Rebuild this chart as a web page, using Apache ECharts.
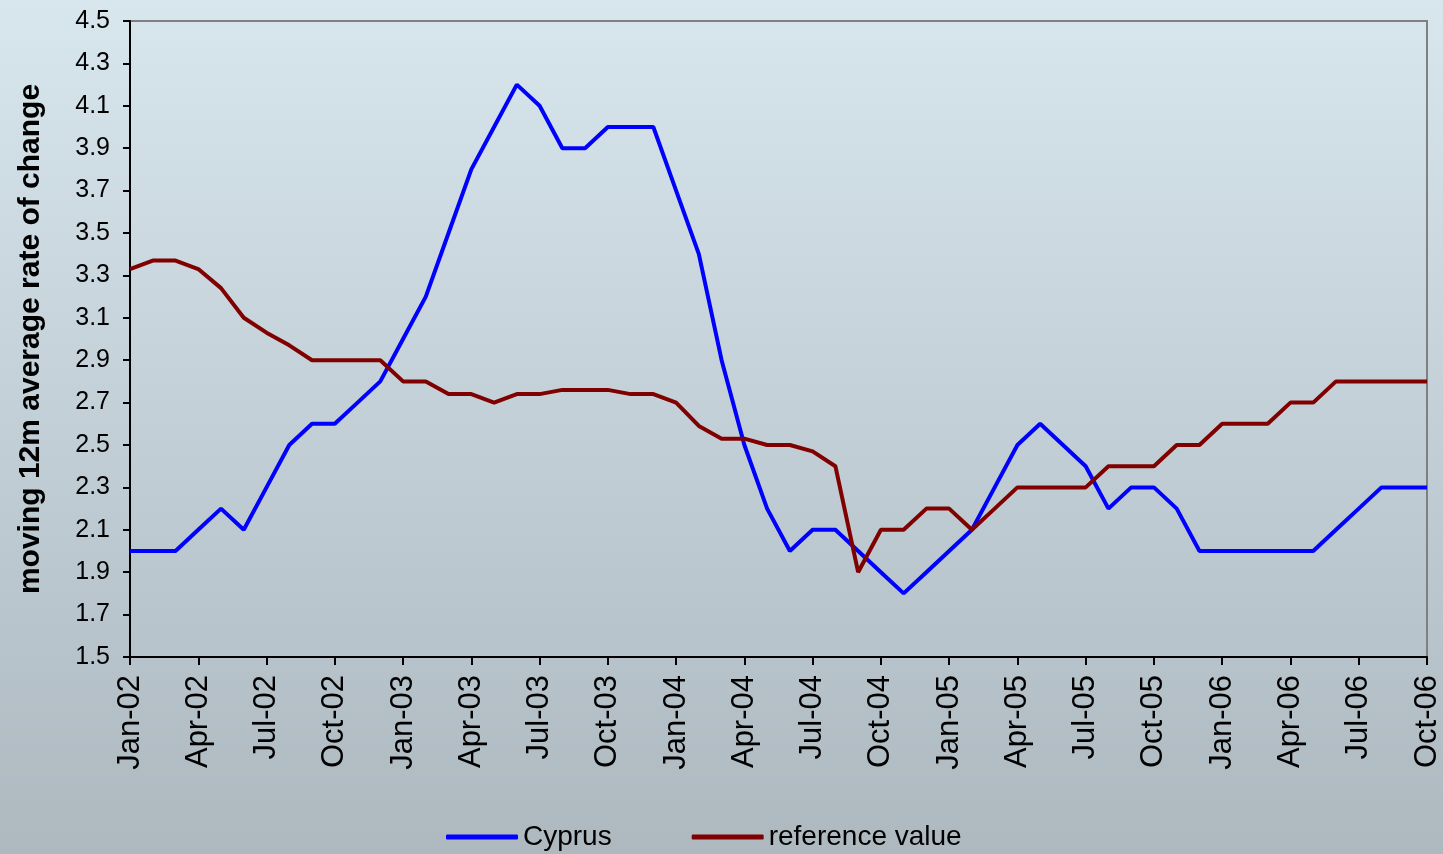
<!DOCTYPE html>
<html>
<head>
<meta charset="utf-8">
<script src="https://cdn.jsdelivr.net/npm/echarts@6/dist/echarts.min.js"></script>
<style>
html, body { margin: 0; padding: 0; }
#chart { width: 1443px; height: 854px; }
</style>
</head>
<body>
<div id="chart"></div>
<script>
var months = [
    'Jan-02','Feb-02','Mar-02','Apr-02','May-02','Jun-02','Jul-02','Aug-02','Sep-02','Oct-02','Nov-02','Dec-02',
    'Jan-03','Feb-03','Mar-03','Apr-03','May-03','Jun-03','Jul-03','Aug-03','Sep-03','Oct-03','Nov-03','Dec-03',
    'Jan-04','Feb-04','Mar-04','Apr-04','May-04','Jun-04','Jul-04','Aug-04','Sep-04','Oct-04','Nov-04','Dec-04',
    'Jan-05','Feb-05','Mar-05','Apr-05','May-05','Jun-05','Jul-05','Aug-05','Sep-05','Oct-05','Nov-05','Dec-05',
    'Jan-06','Feb-06','Mar-06','Apr-06','May-06','Jun-06','Jul-06','Aug-06','Sep-06','Oct-06'
];

var cyprus = [
    2.0, 2.0, 2.0, 2.1, 2.2, 2.1, 2.3, 2.5, 2.6, 2.6, 2.7, 2.8,
    3.0, 3.2, 3.5, 3.8, 4.0, 4.2, 4.1, 3.9, 3.9, 4.0, 4.0, 4.0,
    3.7, 3.4, 2.9, 2.5, 2.2, 2.0, 2.1, 2.1, 2.0, 1.9, 1.8, 1.9,
    2.0, 2.1, 2.3, 2.5, 2.6, 2.5, 2.4, 2.2, 2.3, 2.3, 2.2, 2.0,
    2.0, 2.0, 2.0, 2.0, 2.0, 2.1, 2.2, 2.3, 2.3, 2.3
];

var referenceValue = [
    3.33, 3.37, 3.37, 3.33, 3.24, 3.10, 3.03, 2.97, 2.90, 2.90, 2.90, 2.90,
    2.80, 2.80, 2.74, 2.74, 2.70, 2.74, 2.74, 2.76, 2.76, 2.76, 2.74, 2.74,
    2.70, 2.59, 2.53, 2.53, 2.50, 2.50, 2.47, 2.40, 1.90, 2.10, 2.10, 2.20,
    2.20, 2.10, 2.20, 2.30, 2.30, 2.30, 2.30, 2.40, 2.40, 2.40, 2.50, 2.50,
    2.60, 2.60, 2.60, 2.70, 2.70, 2.80, 2.80, 2.80, 2.80, 2.80
];

var fontName = '"Liberation Sans", Arial, sans-serif';

var chart = echarts.init(document.getElementById('chart'));
var option = {
    backgroundColor: new echarts.graphic.LinearGradient(0, 0, 0, 1, [
        {offset: 0, color: '#d8e6ee'},
        {offset: 1, color: '#adb8bf'}
    ]),
    textStyle: {fontFamily: fontName},
    grid: {
        left: 130,
        right: 16,
        top: 21,
        bottom: 197,
        show: true,
        borderColor: '#808080',
        borderWidth: 2
    },
    legend: {
        top: 818,
        left: 441,
        icon: 'roundRect',
        itemWidth: 72,
        itemHeight: 5,
        itemGap: 80,
        textStyle: {fontSize: 28, color: '#000', fontFamily: fontName},
        data: ['Cyprus', 'reference value']
    },
    xAxis: {
        type: 'category',
        data: months,
        boundaryGap: false,
        axisLine: {lineStyle: {color: '#000', width: 2}},
        axisTick: {show: true, interval: 2, length: 8, lineStyle: {color: '#000', width: 2}},
        axisLabel: {
            interval: 2,
            rotate: 90,
            margin: 18,
            fontSize: 31,
            color: '#000',
            fontFamily: fontName
        },
        splitLine: {show: false}
    },
    yAxis: {
        type: 'value',
        min: 1.5,
        max: 4.5,
        interval: 0.2,
        name: 'moving 12m average rate of change',
        nameLocation: 'middle',
        nameGap: 84,
        nameTextStyle: {fontSize: 30, fontWeight: 'bold', color: '#000', fontFamily: fontName},
        axisLine: {show: true, lineStyle: {color: '#000', width: 2}},
        axisTick: {show: true, length: 7, lineStyle: {color: '#000', width: 2}},
        axisLabel: {
            margin: 20,
            fontSize: 25,
            color: '#000',
            fontFamily: fontName,
            formatter: function (v) { return v.toFixed(1); }
        },
        splitLine: {show: false}
    },
    series: [
        {
            name: 'Cyprus',
            type: 'line',
            data: cyprus,
            symbol: 'none',
            lineStyle: {color: '#0000ff', width: 4},
            itemStyle: {color: '#0000ff'}
        },
        {
            name: 'reference value',
            type: 'line',
            data: referenceValue,
            symbol: 'none',
            lineStyle: {color: '#800000', width: 4},
            itemStyle: {color: '#800000'}
        }
    ]
};
chart.setOption(option);
</script>
</body>
</html>
